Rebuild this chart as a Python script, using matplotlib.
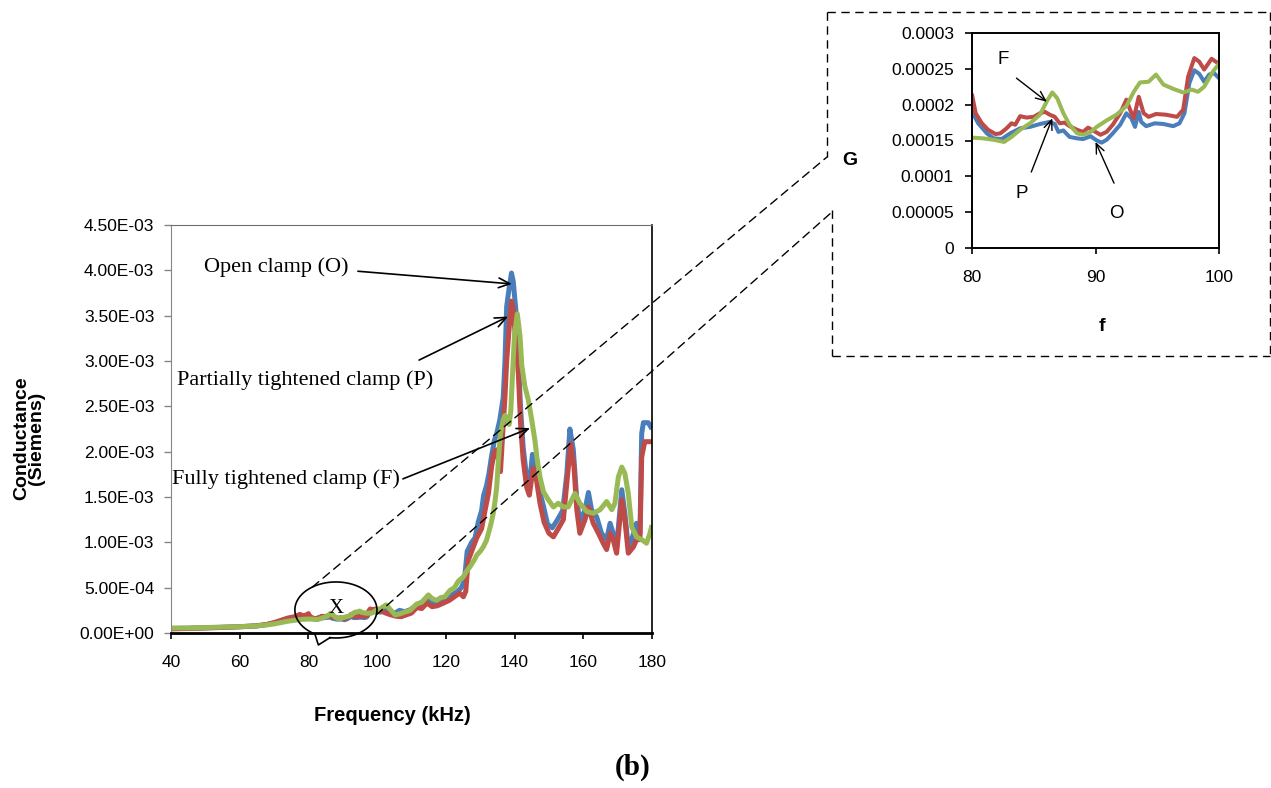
import numpy as np
import matplotlib.pyplot as plt
from matplotlib.patches import ConnectionPatch
from matplotlib.lines import Line2D
from matplotlib.ticker import MultipleLocator, FuncFormatter

W, H = 1271, 788

plt.rcParams['font.family'] = ['Liberation Sans', 'DejaVu Sans']
SERIF = 'Liberation Serif'

BLUE = '#4A7EBB'
RED = '#BE4B48'
GREEN = '#98B954'

# Open clamp (O): frequency in kHz, conductance in Siemens
freq_open = [40, 45, 50, 55, 60, 65, 68, 70, 72, 74, 76, 78, 79,
             80.0, 80.5, 81.2, 81.75, 82.4, 83.1, 83.9, 84.7, 85.5, 86.3, 86.7,
             87.0, 87.4, 87.9, 88.5, 89.0, 89.6, 90.1, 90.5, 90.9, 91.4, 92.0,
             92.5, 92.9, 93.2, 93.5, 93.7, 94.1, 94.8, 95.5, 96.3, 96.8, 97.2,
             97.6, 98.0, 98.4, 98.8, 99.2, 99.6, 100.0,
             101, 102.5, 104, 105, 106.5, 108, 109.5, 111, 112.5, 114, 115,
             116.5, 117.5, 119.3, 121, 122.2, 123.5, 124.5, 125.4, 126.2, 127.5,
             128.5, 129.4, 130.4, 131.0, 131.8, 132.5, 133.3, 134.1, 134.8,
             135.7, 136.7, 137.2, 137.7, 138.4, 139.1, 139.6, 140.4, 141.1,
             141.8, 142.5, 143.5, 144.3, 145.2, 146.2, 147.2, 148.4, 149.6,
             151.0, 152.5, 154.0, 155.2, 156.1, 157.1, 158.1, 159.0, 160.5,
             161.5, 162.4, 163.9, 165.3, 166.8, 167.8, 168.7, 169.7, 171.2,
             172.1, 173.1, 174.1, 175.5, 176.5, 177.0, 177.5, 178.9, 180]
g_open = [5.0e-5, 5.3e-5, 5.8e-5, 6.3e-5, 7.0e-5, 8.0e-5, 9.5e-5, 1.1e-4,
          1.3e-4, 1.5e-4, 1.65e-4, 1.8e-4, 1.85e-4,
          1.90e-4, 1.74e-4, 1.60e-4, 1.53e-4, 1.52e-4, 1.60e-4, 1.67e-4,
          1.69e-4, 1.73e-4, 1.76e-4, 1.73e-4, 1.62e-4, 1.64e-4, 1.55e-4,
          1.53e-4, 1.52e-4, 1.56e-4, 1.50e-4, 1.47e-4, 1.51e-4, 1.60e-4,
          1.72e-4, 1.88e-4, 1.81e-4, 1.69e-4, 1.90e-4, 1.76e-4, 1.70e-4,
          1.74e-4, 1.73e-4, 1.70e-4, 1.74e-4, 1.88e-4, 2.30e-4, 2.48e-4,
          2.43e-4, 2.32e-4, 2.42e-4, 2.44e-4, 2.37e-4,
          2.30e-4, 2.55e-4, 2.25e-4, 2.15e-4, 2.50e-4, 2.35e-4, 2.55e-4,
          2.90e-4, 3.20e-4, 3.70e-4, 3.60e-4, 3.20e-4, 3.40e-4, 3.70e-4,
          4.00e-4, 4.30e-4, 4.60e-4, 5.00e-4, 5.80e-4, 9.00e-4, 1.00e-3,
          1.05e-3, 1.22e-3, 1.35e-3, 1.52e-3, 1.62e-3, 1.75e-3, 1.95e-3,
          2.12e-3, 2.20e-3, 2.35e-3, 2.60e-3, 3.00e-3, 3.60e-3, 3.80e-3,
          3.97e-3, 3.88e-3, 3.55e-3, 3.00e-3, 2.45e-3, 2.05e-3, 1.72e-3,
          1.62e-3, 1.97e-3, 1.83e-3, 1.58e-3, 1.40e-3, 1.20e-3, 1.16e-3,
          1.25e-3, 1.35e-3, 1.75e-3, 2.25e-3, 2.02e-3, 1.47e-3, 1.22e-3,
          1.36e-3, 1.55e-3, 1.36e-3, 1.28e-3, 1.10e-3, 1.03e-3, 1.21e-3,
          1.10e-3, 0.95e-3, 1.58e-3, 1.32e-3, 0.95e-3, 1.03e-3, 1.21e-3,
          1.10e-3, 2.20e-3, 2.32e-3, 2.32e-3, 2.25e-3]

# Partially tightened clamp (P)
freq_partial = [40, 45, 50, 55, 60, 65, 68, 70, 72, 74, 76, 77.5, 78.5, 79.5,
                80.0, 80.3, 80.8, 81.3, 81.9, 82.3, 82.8, 83.2, 83.5, 83.9, 84.4,
                85.0, 85.5, 85.9, 86.3, 86.7, 87.1, 87.5, 87.9, 88.5, 89.0, 89.4,
                89.8, 90.4, 90.9, 91.4, 92.0, 92.5, 92.8, 93.1, 93.5, 93.9, 94.3,
                94.9, 95.7, 96.6, 97.1, 97.5, 98.0, 98.4, 98.8, 99.4, 100.0,
                101, 102.5, 104, 105.5, 107, 108.5, 110, 111.5, 113, 114.5, 116,
                117.5, 119.3, 121, 122.5, 124, 125.1, 125.8, 126.5, 127.5, 129,
                130.4, 131.4, 132.4, 133.3, 134.1, 134.8, 135.9, 136.7, 137.2,
                137.7, 138.5, 139.1, 139.6, 140.4, 141.1, 141.8, 142.5, 143.5,
                144.3, 145.4, 146.4, 147.4, 148.6, 150.0, 151.3, 152.7, 154.2,
                155.2, 156.3, 157.3, 158.1, 159.0, 160.5, 161.5, 162.9, 164.4,
                165.8, 166.8, 167.8, 168.7, 169.7, 171.2, 172.1, 173.1, 174.6,
                175.5, 176.5, 177.0, 177.9, 180]
g_partial = [4.5e-5, 5.0e-5, 5.5e-5, 6.2e-5, 6.8e-5, 7.8e-5, 9.5e-5, 1.15e-4,
             1.4e-4, 1.65e-4, 1.8e-4, 2.05e-4, 1.9e-4, 2.0e-4,
             2.14e-4, 1.88e-4, 1.74e-4, 1.65e-4, 1.59e-4, 1.60e-4, 1.67e-4,
             1.74e-4, 1.72e-4, 1.84e-4, 1.82e-4, 1.83e-4, 1.88e-4, 1.90e-4,
             1.86e-4, 1.83e-4, 1.74e-4, 1.75e-4, 1.70e-4, 1.65e-4, 1.62e-4,
             1.68e-4, 1.64e-4, 1.58e-4, 1.62e-4, 1.72e-4, 1.88e-4, 2.07e-4,
             1.93e-4, 1.81e-4, 2.11e-4, 1.88e-4, 1.83e-4, 1.87e-4, 1.86e-4,
             1.83e-4, 1.93e-4, 2.39e-4, 2.65e-4, 2.60e-4, 2.49e-4, 2.64e-4,
             2.57e-4,
             2.45e-4, 2.20e-4, 2.00e-4, 1.85e-4, 1.80e-4, 2.00e-4, 2.20e-4,
             2.80e-4, 2.70e-4, 3.30e-4, 2.90e-4, 3.00e-4, 3.30e-4, 3.60e-4,
             4.00e-4, 4.40e-4, 4.00e-4, 4.60e-4, 8.00e-4, 9.00e-4, 1.05e-3,
             1.15e-3, 1.35e-3, 1.54e-3, 1.83e-3, 2.00e-3, 2.02e-3, 1.78e-3,
             2.30e-3, 2.60e-3, 3.00e-3, 3.40e-3, 3.66e-3, 3.56e-3, 3.20e-3,
             2.86e-3, 2.27e-3, 1.91e-3, 1.61e-3, 1.52e-3, 1.82e-3, 1.68e-3,
             1.43e-3, 1.22e-3, 1.10e-3, 1.06e-3, 1.15e-3, 1.25e-3, 1.65e-3,
             2.09e-3, 1.83e-3, 1.36e-3, 1.10e-3, 1.25e-3, 1.39e-3, 1.21e-3,
             1.10e-3, 0.99e-3, 0.92e-3, 1.10e-3, 1.03e-3, 0.88e-3, 1.47e-3,
             1.25e-3, 0.88e-3, 0.95e-3, 1.03e-3, 1.03e-3, 1.94e-3, 2.11e-3,
             2.11e-3]

# Fully tightened clamp (F)
freq_full = [40, 45, 50, 55, 60, 65, 68, 70, 72, 74, 76, 78, 79,
             80.0, 80.9, 81.75, 82.6, 83.2, 83.9, 84.7, 85.5, 86.1, 86.5, 86.9,
             87.4, 87.9, 88.5, 89.0, 89.6, 90.1, 90.9, 91.7, 92.5, 93.1, 93.6,
             94.3, 94.9, 95.5, 96.3, 97.1, 97.8, 98.3, 98.8, 99.5, 100.0,
             101, 102.6, 103.8, 105.2, 106.5, 108, 109.6, 111.5, 113, 114.9,
             116, 117.3, 118.5, 119.7, 121.2, 122.5, 123.6, 125.1, 126, 127,
             128.2, 129.0, 130.0, 130.9, 131.8, 132.4, 133.1, 133.8, 134.3,
             134.8, 135.3, 135.9, 136.7, 137.2, 137.7, 138.4, 138.9, 139.4,
             140.0, 140.8, 141.6, 142.1, 143.0, 144.0, 145.0, 145.9, 146.6,
             147.4, 148.4, 149.8, 151.3, 152.7, 154.2, 155.6, 157.6, 159.0,
             161.0, 162.9, 164.9, 166.8, 168.3, 169.2, 170.2, 171.2, 172.1,
             173.1, 174.1, 175.5, 177.0, 178.4, 179.4, 180]
g_full = [5.5e-5, 5.5e-5, 6.0e-5, 6.5e-5, 7.0e-5, 7.8e-5, 9.0e-5, 1.0e-4,
          1.15e-4, 1.3e-4, 1.4e-4, 1.5e-4, 1.52e-4,
          1.54e-4, 1.53e-4, 1.51e-4, 1.48e-4, 1.55e-4, 1.65e-4, 1.74e-4,
          1.86e-4, 2.06e-4, 2.17e-4, 2.09e-4, 1.88e-4, 1.72e-4, 1.60e-4,
          1.58e-4, 1.62e-4, 1.69e-4, 1.78e-4, 1.86e-4, 1.98e-4, 2.18e-4,
          2.31e-4, 2.32e-4, 2.42e-4, 2.28e-4, 2.22e-4, 2.17e-4, 2.21e-4,
          2.18e-4, 2.25e-4, 2.46e-4, 2.57e-4,
          2.70e-4, 3.10e-4, 2.60e-4, 2.00e-4, 2.10e-4, 2.30e-4, 2.50e-4,
          3.20e-4, 3.40e-4, 4.20e-4, 3.80e-4, 3.60e-4, 3.90e-4, 4.00e-4,
          4.70e-4, 5.00e-4, 5.70e-4, 6.20e-4, 6.80e-4, 7.30e-4, 8.00e-4,
          8.60e-4, 9.00e-4, 9.50e-4, 1.02e-3, 1.10e-3, 1.20e-3, 1.32e-3,
          1.45e-3, 1.61e-3, 1.91e-3, 2.20e-3, 2.35e-3, 2.40e-3, 2.38e-3,
          2.30e-3, 2.45e-3, 2.85e-3, 3.30e-3, 3.52e-3, 3.27e-3, 2.95e-3,
          2.72e-3, 2.57e-3, 2.35e-3, 2.13e-3, 1.91e-3, 1.72e-3, 1.56e-3,
          1.47e-3, 1.39e-3, 1.43e-3, 1.39e-3, 1.39e-3, 1.54e-3, 1.43e-3,
          1.34e-3, 1.32e-3, 1.36e-3, 1.45e-3, 1.36e-3, 1.43e-3, 1.72e-3,
          1.83e-3, 1.76e-3, 1.54e-3, 1.17e-3, 1.06e-3, 1.03e-3, 0.99e-3,
          1.10e-3, 1.19e-3]

series = [(freq_open, g_open, BLUE),
          (freq_partial, g_partial, RED),
          (freq_full, g_full, GREEN)]

inset_ytick_labels = ['0', '0.00005', '0.0001', '0.00015', '0.0002',
                      '0.00025', '0.0003']


def fig_frac(x, y):
    # pixel position (origin top-left) -> figure fraction
    return x / W, 1 - y / H


fig = plt.figure(figsize=(W / 100, H / 100), dpi=100)

# ---- main chart ----
ax = fig.add_axes([171 / W, 1 - 633 / H, 481 / W, 408 / H])
for f, g, c in series:
    ax.plot(f, g, color=c, lw=3.6, solid_joinstyle='round',
            solid_capstyle='butt')
ax.set_xlim(40, 180)
ax.set_ylim(0, 4.5e-3)
ax.xaxis.set_major_locator(MultipleLocator(20))
ax.yaxis.set_major_locator(MultipleLocator(5e-4))
ax.yaxis.set_major_formatter(FuncFormatter(lambda v, p: f'{v:.2E}'))
ax.tick_params(axis='x', direction='out', length=4, width=1.2,
               color='black', pad=12, labelsize=12.5)
ax.tick_params(axis='y', direction='out', length=5, width=1,
               color='#868686', pad=7, labelsize=12.5)
ax.spines['left'].set_color('#868686')
ax.spines['top'].set_color('#6e6e6e')
ax.spines['bottom'].set_linewidth(2)
ax.spines['right'].set_linewidth(1.2)

ax.set_xlabel('Frequency (kHz)', fontsize=14.5, fontweight='bold')
ax.xaxis.set_label_coords(0.4595, -0.201)
ax.xaxis.label.set_verticalalignment('center')
ax.set_ylabel('Conductance\n(Siemens)', fontsize=14, fontweight='bold',
              linespacing=0.9)
ax.yaxis.set_label_coords(-0.295, 0.478)
ax.yaxis.label.set_verticalalignment('center')

arrow = dict(arrowstyle='->,head_length=0.8,head_width=0.35', lw=1.2,
             color='black', shrinkA=0, shrinkB=0)
ax.text(70.6, 4.03e-3, 'Open clamp (O)', family=SERIF, fontsize=16,
        ha='center', va='center')
ax.annotate('', xy=(139.2, 3.85e-3), xytext=(94.4, 3.99e-3), arrowprops=arrow)
ax.text(79.0, 2.79e-3, 'Partially tightened clamp (P)', family=SERIF,
        fontsize=16, ha='center', va='center')
ax.annotate('', xy=(138.1, 3.49e-3), xytext=(112.2, 3.01e-3), arrowprops=arrow)
ax.text(73.5, 1.70e-3, 'Fully tightened clamp (F)', family=SERIF,
        fontsize=16, ha='center', va='center')
ax.annotate('', xy=(144.5, 2.26e-3), xytext=(107.5, 1.70e-3), arrowprops=arrow)

# oval callout "X" around the 80-100 kHz band
cx, cy, rx, ry = 88.0, 2.54e-4, 11.95, 3.09e-4
t = np.radians(np.linspace(261.6, 599.2, 200))
ox = list(cx + rx * np.cos(t)) + [82.9, cx + rx * np.cos(t[0])]
oy = list(cy + ry * np.sin(t)) + [-1.32e-4, cy + ry * np.sin(t[0])]
ax.plot(ox, oy, color='black', lw=1.2, clip_on=False, zorder=5)
ax.text(cx, cy + 0.2e-4, 'X', family=SERIF, fontsize=15, ha='center',
        va='center')

# ---- inset: zoom on 80-100 kHz ----
ax_in = fig.add_axes([972 / W, 1 - 248 / H, 247 / W, 215 / H])
for f, g, c in series:
    ax_in.plot(f, g, color=c, lw=2.9, solid_joinstyle='round',
               solid_capstyle='butt')
ax_in.set_xlim(80, 100)
ax_in.set_ylim(0, 0.0003)
ax_in.xaxis.set_major_locator(MultipleLocator(10))
ax_in.set_yticks(np.linspace(0, 0.0003, len(inset_ytick_labels)))
ax_in.set_yticklabels(inset_ytick_labels)
ax_in.tick_params(axis='x', direction='out', length=4, width=1.2, pad=12,
                  labelsize=12.5)
ax_in.tick_params(axis='y', direction='out', length=5, width=1.2, pad=8,
                  labelsize=12.5)
for s in ax_in.spines.values():
    s.set_linewidth(1.4)
ax_in.set_ylabel('G', rotation=0, fontsize=14, fontweight='bold')
ax_in.yaxis.set_label_coords(-0.494, 0.409)
ax_in.yaxis.label.set_verticalalignment('center')
ax_in.set_xlabel('f', fontsize=14, fontweight='bold')
ax_in.xaxis.set_label_coords(0.526, -0.367)
ax_in.xaxis.label.set_verticalalignment('center')

small_arrow = dict(arrowstyle='->,head_length=0.7,head_width=0.3', lw=1.0,
                   color='black', shrinkA=0, shrinkB=0)
ax_in.text(82.5, 0.000263, 'F', fontsize=13.5, ha='center', va='center')
ax_in.annotate('', xy=(86.07, 0.000204), xytext=(83.6, 0.000237),
               arrowprops=small_arrow)
ax_in.text(84.0, 0.0000765, 'P', fontsize=13.5, ha='center', va='center')
ax_in.annotate('', xy=(86.5, 0.000181), xytext=(84.8, 0.000106),
               arrowprops=small_arrow)
ax_in.text(91.7, 0.0000486, 'O', fontsize=13.5, ha='center', va='center')
ax_in.annotate('', xy=(90.0, 0.000148), xytext=(91.5, 0.0000905),
               arrowprops=small_arrow)

# ---- dashed frame round the inset and leader lines ----
dash = dict(color='black', lw=1.0, linestyle=(0, (6, 4)))
frame = [((827, 12), (1270, 12)),
         ((1270, 12), (1270, 356)),
         ((832, 356), (1270, 356)),
         ((827, 12), (827, 157)),
         ((832, 210), (832, 356))]
for p0, p1 in frame:
    (x0, y0), (x1, y1) = fig_frac(*p0), fig_frac(*p1)
    fig.add_artist(Line2D([x0, x1], [y0, y1], transform=fig.transFigure,
                          **dash))

for ang, end in [(125, (827, 157)), (-10, (832, 212))]:
    a = np.radians(ang)
    start = (cx + rx * np.cos(a), cy + ry * np.sin(a))
    con = ConnectionPatch(xyA=start, coordsA='data', axesA=ax,
                          xyB=fig_frac(*end), coordsB='figure fraction',
                          zorder=6, **dash)
    fig.add_artist(con)

fig.text(633 / W, 1 - 767 / H, '(b)', family=SERIF, fontsize=21,
         fontweight='bold', ha='center', va='center')

fig.savefig('out.png', dpi=100)
